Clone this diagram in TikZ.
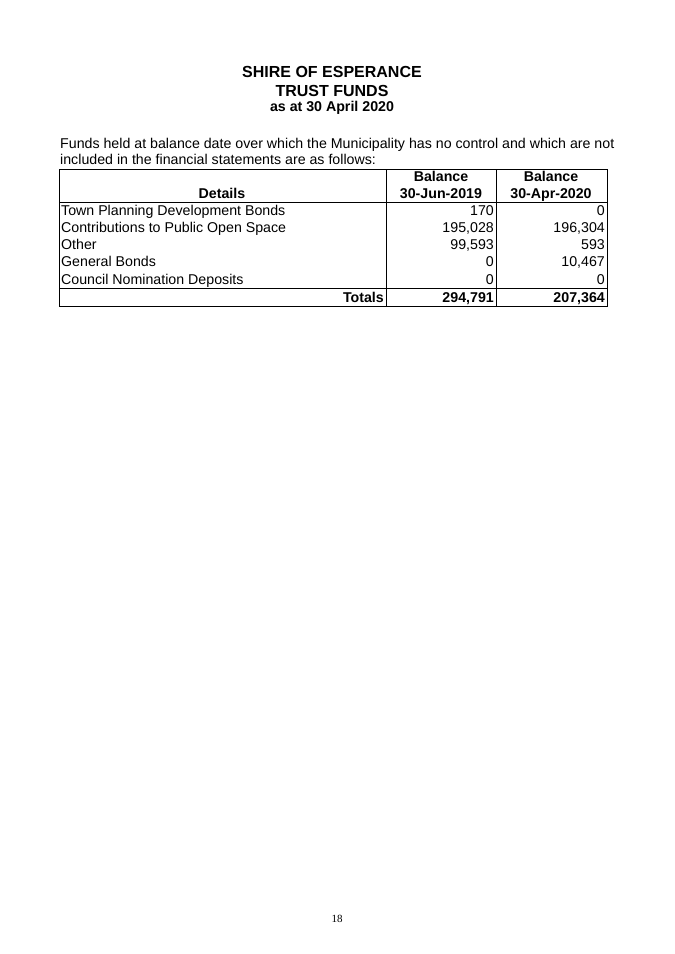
\documentclass[tikz,border=0pt]{standalone}
\usepackage{fontspec}
\setmainfont{Liberation Sans}
\newfontfamily\pgnum{Liberation Serif}
\begin{document}
\begin{tikzpicture}[x=1pt,y=-1pt,
 txt/.style={inner sep=0pt,font=\fontsize{14.2}{16}\selectfont},
 bold/.style={txt,font=\fontsize{14.2}{16}\selectfont\bfseries},
 ttl/.style={inner sep=0pt,font=\fontsize{16}{18}\selectfont\bfseries}]
\useasboundingbox (0,0) rectangle (675,954);
\node[ttl] (t1) at (332,72) {SHIRE OF ESPERANCE};
\node[ttl] (t2) at (332,91) {TRUST FUNDS};
\node[bold] (t3) at (332,108) {as at 30 April 2020};
\node[txt,anchor=base west] (p1) at (60,148) {Funds held at balance date over which the Municipality has no control and which are not};
\node[txt,anchor=base west] (p2) at (60,164) {included in the financial statements are as follows:};
\draw[line width=0.8pt] (59,169) rectangle (607,306);
\draw[line width=0.8pt] (386,169) -- (386,306) (496,169) -- (496,306) (59,202) -- (607,202) (59,288) -- (607,288);
\node[bold,anchor=base] (h0) at (222,198) {Details};
\node[bold,anchor=base] (h1) at (441,181) {Balance};
\node[bold,anchor=base] (h2) at (441,198) {30-Jun-2019};
\node[bold,anchor=base] (h3) at (551,181) {Balance};
\node[bold,anchor=base] (h4) at (551,198) {30-Apr-2020};
\foreach \n/\a/\b [count=\i] in {Town Planning Development Bonds/170/0,Contributions to Public Open Space/{195,028}/{196,304},Other/{99,593}/593,General Bonds/0/{10,467},Council Nomination Deposits/0/0}{
 \node[txt,anchor=base west] (r\i) at (61,{202+17.2*\i-4}) {\n};
 \node[txt,anchor=base east] (a\i) at (494,{202+17.2*\i-4}) {\a};
 \node[txt,anchor=base east] (b\i) at (605,{202+17.2*\i-4}) {\b};
}
\node[bold,anchor=base east] (tt) at (384,302) {Totals};
\node[bold,anchor=base east] (ta) at (494,302) {294,791};
\node[bold,anchor=base east] (tb) at (605,302) {207,364};
\node[inner sep=0pt,font=\pgnum\fontsize{11}{13}\selectfont] (pg) at (337,919) {18};
\end{tikzpicture}
\end{document}
